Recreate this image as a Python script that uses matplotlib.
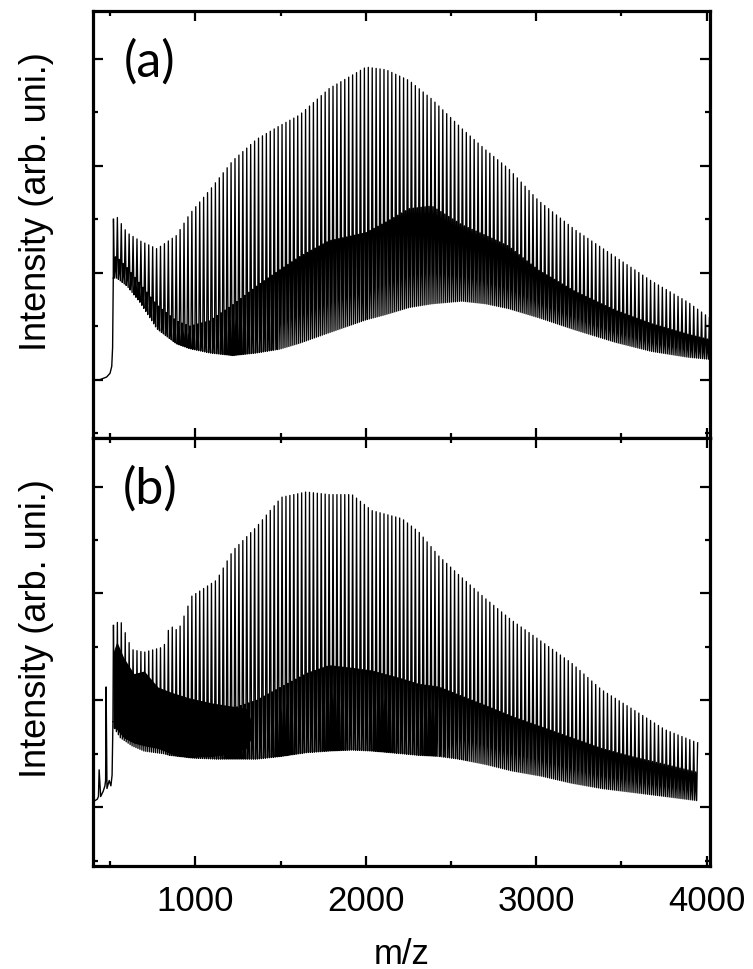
import matplotlib
matplotlib.use("Agg")
import matplotlib.pyplot as plt
import numpy as np

# ---- data (intensity in y-tick units) ----
# repeat unit of the peak series (m/z)
peak_spacing = 23.0

# panel (a): flat part before the onset
pre_mz_a = [400, 440, 480, 500, 510, 515, 519]
pre_int_a = [1.0, 1.0, 1.05, 1.12, 1.25, 1.6, 2.9]

# panel (a): envelopes of the peak series
env_mz_a = [520, 540, 600, 675, 775, 890, 967, 1085, 1220, 1360, 1494, 1610, 1786,
            2002, 2119, 2254, 2388, 2564, 2704, 2838, 3014, 3230, 3464, 3675, 3891, 4020]
top_a = [4.0, 4.05, 3.75, 3.6, 3.45, 3.7, 4.1, 4.55, 5.1, 5.5, 5.75, 5.95, 6.45,
         6.85, 6.8, 6.6, 6.25, 5.7, 5.3, 4.95, 4.35, 3.8, 3.3, 2.85, 2.45, 2.15]
mid_a = [3.3, 3.3, 3.1, 2.8, 2.4, 2.1, 2.0, 2.1, 2.4, 2.75, 3.05, 3.3, 3.6,
         3.75, 3.95, 4.2, 4.25, 3.9, 3.7, 3.5, 3.05, 2.65, 2.3, 2.05, 1.85, 1.75]
valley_a = [2.9, 2.9, 2.75, 2.45, 1.95, 1.67, 1.58, 1.5, 1.45, 1.5, 1.57, 1.68, 1.88,
            2.12, 2.22, 2.35, 2.42, 2.47, 2.42, 2.33, 2.16, 1.93, 1.7, 1.53, 1.42, 1.38]

# panel (b): noisy part before the onset
pre_mz_b = [400, 425, 432, 436, 445, 460, 470, 474, 477, 482, 495, 505, 512, 517]
pre_int_b = [1.1, 1.15, 1.2, 1.7, 1.2, 1.3, 1.4, 1.5, 3.25, 1.35, 1.5, 1.4, 1.6, 2.6]

# panel (b): envelopes of the peak series
env_mz_b = [520, 560, 628, 700, 815, 850, 900, 980, 1125, 1220, 1360, 1505, 1651, 1786,
            1920, 2037, 2213, 2312, 2429, 2546, 2704, 2856, 3032, 3207, 3383, 3558, 3757, 3950]
top_b = [4.4, 4.5, 3.95, 3.9, 4.0, 4.4, 4.3, 4.95, 5.25, 5.8, 6.25, 6.8, 6.9, 6.85,
         6.85, 6.55, 6.4, 6.15, 5.7, 5.35, 4.9, 4.5, 4.1, 3.7, 3.2, 2.85, 2.45, 2.2]
mid_b = [3.2, 3.2, 3.0, 2.9, 2.8, 2.75, 2.7, 2.7, 2.75, 2.85, 3.0, 3.25, 3.5, 3.65,
         3.6, 3.55, 3.4, 3.3, 3.25, 3.1, 2.9, 2.7, 2.5, 2.3, 2.1, 1.95, 1.8, 1.65]
valley_b = [2.5, 2.3, 2.15, 2.05, 2.0, 1.97, 1.95, 1.92, 1.9, 1.9, 1.9, 1.95, 2.02, 2.05,
            2.07, 2.05, 2.0, 1.97, 1.95, 1.9, 1.8, 1.68, 1.58, 1.45, 1.35, 1.28, 1.2, 1.12]

# panel (b): dense low-mass band
dense_mz_b = [518, 540, 580, 640, 700, 780, 860, 960, 1100, 1200, 1300, 1330]
dense_lo_b = [2.5, 2.45, 2.3, 2.2, 2.15, 2.1, 2.0, 1.95, 1.95, 2.0, 2.1, 2.3]
dense_hi_b = [3.9, 4.1, 3.8, 3.5, 3.55, 3.25, 3.15, 3.05, 2.95, 2.9, 2.85, 2.6]

panel_labels = ["(a)", "(b)"]
x_major = [1000, 2000, 3000, 4000]
x_minor = [500, 1500, 2500, 3500]


def spectrum_trace(env_mz, top, mid, valley, spacing):
    # zig-zag trace: tall peak, valley, middle peak, valley, ...
    pos = np.arange(env_mz[0], env_mz[-1], spacing / 4.0)
    kind = np.arange(len(pos)) % 4
    t = np.interp(pos, env_mz, top)
    m = np.interp(pos, env_mz, mid)
    v = np.interp(pos, env_mz, valley)
    y = np.where(kind == 0, t, np.where(kind == 2, m, v))
    return pos, y


fig = plt.figure(figsize=(7.53, 9.69), dpi=100)
ax_a = fig.add_axes([0.1235, 0.5475, 0.8195, 0.4412])
ax_b = fig.add_axes([0.1235, 0.1063, 0.8195, 0.4412])

panels = [
    (ax_a, pre_mz_a, pre_int_a, env_mz_a, top_a, mid_a, valley_a),
    (ax_b, pre_mz_b, pre_int_b, env_mz_b, top_b, mid_b, valley_b),
]

for i, (ax, pmz, pint, emz, tp, md, vl) in enumerate(panels):
    x, y = spectrum_trace(emz, tp, md, vl, peak_spacing)
    ax.plot(pmz, pint, color="black", lw=1.0)
    ax.plot([pmz[-1], x[0]], [pint[-1], y[0]], color="black", lw=1.0)
    ax.plot(x, y, color="black", lw=0.95)

    ax.set_xlim(400, 4020)
    ax.set_ylim(-0.1, 7.9)
    ax.set_xticks(x_major)
    ax.set_xticks(x_minor, minor=True)
    ax.set_yticks([1, 3, 5, 7])
    ax.set_yticks([0, 2, 4, 6], minor=True)
    ax.tick_params(which="both", direction="in", top=True, right=True,
                   width=1.6, labelleft=False, labelsize=25, pad=14)
    ax.tick_params(which="major", length=7.5)
    ax.tick_params(which="minor", length=3.5)
    for sp in ax.spines.values():
        sp.set_linewidth(2.3)

    ax.set_ylabel("Intensity (arb. uni.)", fontsize=26, family="Liberation Sans")
    ax.yaxis.set_label_coords(-0.064, 0.555)
    ax.text(0.092, 0.88, panel_labels[i], transform=ax.transAxes,
            fontsize=36, family="Lato", ha="center", va="center")

ax_b.fill_between(dense_mz_b, dense_lo_b, dense_hi_b, color="black", lw=0)

ax_a.tick_params(labelbottom=False)
for lbl in ax_b.get_xticklabels():
    lbl.set_family("Liberation Sans")
ax_b.set_xlabel("m/z", fontsize=25, family="Liberation Sans", labelpad=14)

fig.savefig("out.png", dpi=100)
